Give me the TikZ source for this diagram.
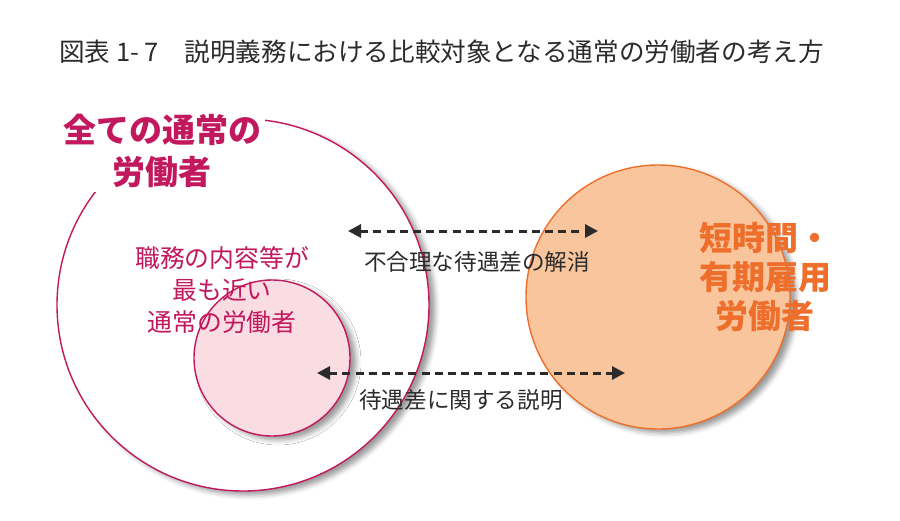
\documentclass[tikz,border=0pt]{standalone}
\usepackage{fontspec}
\setmainfont{Noto Sans CJK JP}
\usepackage{tikz}
\usetikzlibrary{arrows.meta, shadows.blur}
\definecolor{ttmagenta}{HTML}{C2185E}
\definecolor{ttpink}{HTML}{FADCE3}
\definecolor{ttorange}{HTML}{EE6E2C}
\definecolor{ttpeach}{HTML}{F9C59D}
\definecolor{ttdark}{HTML}{2B2B2B}

\begin{document}
\begin{tikzpicture}[x=0.5pt, y=-0.5pt,
  ring/.style={circle, inner sep=0pt, line width=0.7pt,
    blur shadow={shadow xshift=3pt, shadow yshift=-2pt,
      shadow blur radius=2.5pt, shadow opacity=40}},
  gaparrow/.style={{Triangle[length=6.5pt,width=6.5pt]}-{Triangle[length=6.5pt,width=6.5pt]},
    line width=1.5pt, dash pattern=on 4pt off 2.6pt, ttdark},
  biglabel/.style={font=\fontsize{16.5}{21}\selectfont\bfseries, align=center},
  smalllabel/.style={font=\fontsize{11.3}{14}\selectfont, ttdark}]
  \useasboundingbox (0,0) rectangle (900,520);
  % title
  \node[anchor=west, text=ttdark, font=\fontsize{12.8}{15}\selectfont] (title) at (52,52)
    {図表 1- 7　説明義務における比較対象となる通常の労働者の考え方};
  % circles
  \node[ring, draw=ttmagenta, fill=white, minimum size=186pt] (allworkers) at (243,305) {};
  \node[ring, draw=ttmagenta, fill=ttpink, minimum size=78pt] (nearest) at (272,358) {};
  \node[ring, draw=ttorange, fill=ttpeach, minimum size=132pt] (parttime) at (658,297) {};
  % labels
  \node[biglabel, text=ttmagenta, fill=white, inner sep=2pt] (allworkerslabel) at (162,151)
    {全ての通常の\\労働者};
  \node[align=center, text=ttmagenta, font=\fontsize{12.4}{16}\selectfont] (nearestlabel) at (222,290)
    {職務の内容等が\\最も近い\\通常の労働者};
  \node[biglabel, text=ttorange, font=\fontsize{16.5}{19.3}\selectfont\bfseries] (parttimelabel) at (765,277)
    {短時間・\\有期雇用\\労働者};
  % arrows
  \coordinate (fixl) at (348,231);
  \coordinate (fixr) at (598,231);
  \coordinate (explainl) at (317,373);
  \coordinate (explainr) at (625,373);
  \draw[gaparrow] (fixl) -- (fixr);
  \draw[gaparrow] (explainl) -- (explainr);
  \node[smalllabel] (fixlabel) at (477,262) {不合理な待遇差の解消};
  \node[smalllabel] (explainlabel) at (461,400) {待遇差に関する説明};
\end{tikzpicture}
\end{document}
